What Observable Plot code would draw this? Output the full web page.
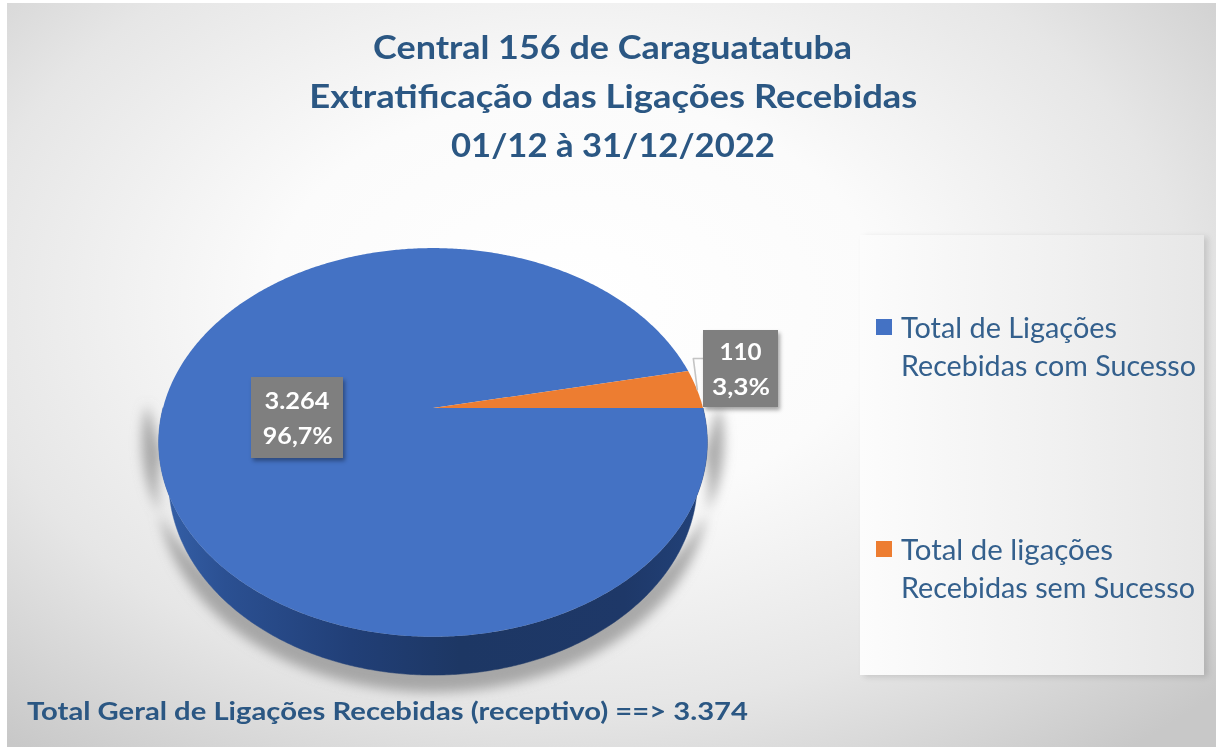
<!DOCTYPE html>
<html><head><meta charset="utf-8">
<script src="https://cdn.jsdelivr.net/npm/d3@7"></script>
<script src="https://cdn.jsdelivr.net/npm/@observablehq/plot@0.6"></script>
<style>
html,body{margin:0;padding:0;background:#fff;}
#page{position:relative;width:1216px;height:747px;overflow:hidden;font-family:Lato,"Open Sans",sans-serif;}
#bg{position:absolute;left:7px;top:3px;right:0;bottom:0;
  background:radial-gradient(ellipse 72% 78% at 47% 40%, #ffffff 0%, #fbfbfb 35%, #e6e6e6 70%, #c8c8c8 100%);}
#legendBox{position:absolute;left:860px;top:235px;width:344px;height:440px;
  background:linear-gradient(90deg,#fcfcfc 0%,#f1f1f1 55%,#e7e7e7 100%);
  box-shadow:4px 2px 6px rgba(0,0,0,0.13);}
.line{position:absolute;white-space:nowrap;}
.line span{display:inline-block;}
.title{left:0;width:1226px;text-align:center;font-weight:700;font-size:32.5px;line-height:40px;height:40px;color:#2B5783;}
.title span{transform-origin:50% 50%;}
.leg{font-size:28px;line-height:36px;height:36px;color:#34608D;}
.leg span, .foot span{transform-origin:0 50%;}
.foot{font-size:24.5px;font-weight:700;line-height:34px;height:34px;color:#2B5783;}
.swatch{position:absolute;width:16px;height:16px;}
.lbl{position:absolute;background:#7f7f7f;color:#fff;font-weight:700;font-size:23.5px;
  box-shadow:2px 3px 4px rgba(0,0,0,0.35);}
.lbl div{position:absolute;left:0;right:0;text-align:center;line-height:30px;height:30px;white-space:nowrap;}
.lbl span{display:inline-block;transform-origin:50% 50%;}
#chart{position:absolute;left:0;top:0;}
</style>
</head><body>
<div id="page">
  <div id="bg"></div>
  <div id="legendBox"></div>
  <div id="chart"></div>
</div>
<script>
// ---------- data ----------
const titleLines = ["Central 156 de Caraguatatuba", "Extratificação das Ligações Recebidas", "01/12 à 31/12/2022"];
const categories = ["Total de Ligações Recebidas com Sucesso", "Total de ligações Recebidas sem Sucesso"];
const legendLines = [["Total de Ligações", "Recebidas com Sucesso"], ["Total de ligações", "Recebidas sem Sucesso"]];
const values = [3264, 110];
const valueLabels = ["3.264", "110"];
const percentLabels = ["96,7%", "3,3%"];
const totalText = "Total Geral de Ligações Recebidas (receptivo) ==> 3.374";
const sliceColors = ["#4472C4", "#ED7D31"];

// ---------- layout ----------
const W = 1216, H = 747;
const page = document.getElementById("page");
const k = 1093.5;           // pixels per projected unit
const cx0 = 433, cy0 = 408; // pixel position of the pie centre
const tilt = 44.2 * Math.PI / 180, dist = 4.05, thick = 0.214;
const cosT = Math.cos(tilt), sinT = Math.sin(tilt);
function proj(X, Y, Z) {
  const depth = Y * cosT + dist - Z * sinT;
  return [X / depth, (Y * sinT + Z * cosT) / depth];
}

const total = d3.sum(values);
let acc = 0;
const slices = values.map((v, i) => { const f0 = acc / total; acc += v; return {cat: categories[i], f0, f1: acc / total, i}; });
const ang = f => -2 * Math.PI * f; // clockwise from 3 o'clock

// top surface fans
const [ccx, ccy] = proj(0, 0, 0);
const topRows = [];
for (const s of slices) {
  const n = Math.max(4, Math.ceil((s.f1 - s.f0) * 720));
  for (let j = 0; j <= n; j++) {
    const a = ang(s.f0 + (s.f1 - s.f0) * j / n);
    const [px, py] = proj(Math.cos(a), Math.sin(a), 0);
    topRows.push({cat: s.cat, x1: ccx, y1: ccy, x2: px, y2: py});
  }
}
// side wall (near half)
const wallRows = d3.range(0, 361).map(j => {
  const t = Math.PI + Math.PI * j / 360;
  const [a, b] = proj(Math.cos(t), Math.sin(t), 0);
  const [c, d] = proj(Math.cos(t), Math.sin(t), -thick);
  return {x1: a, y1: b, x2: c, y2: d};
});
// shadow silhouette (lower part of the pie, slightly enlarged)
const shadowRows = d3.range(0, 361).map(j => {
  const t = Math.PI + Math.PI * j / 360;
  const [a, b] = proj(1.05 * Math.cos(t), 1.05 * Math.sin(t), 0.05);
  const [c, d] = proj(1.04 * Math.cos(t), 1.04 * Math.sin(t), -thick);
  return {x1: a, y1: b, x2: c, y2: d};
});
// label anchors
const toPx = ([sx, sy]) => [cx0 + k * sx, cy0 - k * sy];
const toData = ([px, py]) => [(px - cx0) / k, (cy0 - py) / k];
const mids = slices.map(s => ang((s.f0 + s.f1) / 2));
const blueC = toPx(proj(0.5 * Math.cos(mids[0]), 0.5 * Math.sin(mids[0]), 0));
const orC0 = toPx(proj(1.17 * Math.cos(mids[1]), 1.17 * Math.sin(mids[1]), 0));
const orC = [orC0[0], orC0[1] - 17];
const rim = toPx(proj(Math.cos(mids[1]), Math.sin(mids[1]), 0));
const orBox = {w: 75, h: 77};
const leaderPx = [rim, [rim[0] - 4, orC[1] - 11], [orC[0] - orBox.w / 2, orC[1] - 11]];
const leader = leaderPx.map(p => { const [x, y] = toData(p); return {x, y}; });

const plot = Plot.plot({
  width: W, height: H, margin: 0,
  x: {domain: [-cx0 / k, (W - cx0) / k], range: [0, W], axis: null},
  y: {domain: [-(H - cy0) / k, cy0 / k], range: [H, 0], axis: null},
  color: {domain: categories, range: sliceColors},
  style: {background: "transparent", overflow: "visible"},
  marks: [
    Plot.area(shadowRows, {x1: "x1", y1: "y1", x2: "x2", y2: "y2", fill: "#8a8a8a", fillOpacity: 0.7, dy: 6}),
    Plot.area(wallRows, {x1: "x1", y1: "y1", x2: "x2", y2: "y2", fill: "url(#wallGrad)", stroke: "url(#wallGrad)", strokeWidth: 0.5}),
    Plot.area(topRows, {x1: "x1", y1: "y1", x2: "x2", y2: "y2", z: "cat", fill: "cat"}),
    Plot.line(leader, {x: "x", y: "y", stroke: "#c4c4c4", strokeWidth: 1.6})
  ]
});
document.getElementById("chart").appendChild(plot);
const svg = d3.select(plot);
const defs = svg.insert("defs", ":first-child");
const g = defs.append("linearGradient").attr("id", "wallGrad").attr("gradientUnits", "userSpaceOnUse")
  .attr("x1", 160).attr("y1", 0).attr("x2", 706).attr("y2", 0);
[[0, "#3560a8"], [0.12, "#2b5092"], [0.35, "#213f77"], [0.55, "#1d3764"], [0.85, "#1e3868"], [1, "#22427a"]]
  .forEach(([o, c]) => g.append("stop").attr("offset", o).attr("stop-color", c));
defs.append("filter").attr("id", "softBlur").attr("filterUnits", "userSpaceOnUse")
  .attr("x", 0).attr("y", 0).attr("width", W).attr("height", H)
  .append("feGaussianBlur").attr("stdDeviation", 6);
const firstArea = plot.querySelector('g[aria-label="area"]');
if (firstArea) firstArea.setAttribute("filter", "url(#softBlur)");

// ---------- text ----------
function fit(span, target) {
  const w = span.getBoundingClientRect().width;
  if (w > 0) span.style.transform = `scaleX(${target / w})`;
}
function addLine(cls, text, left, centerY, lh, target, parent = page) {
  const d = document.createElement("div");
  d.className = "line " + cls;
  if (left !== null) d.style.left = left + "px";
  d.style.top = (centerY - lh / 2) + "px";
  const s = document.createElement("span");
  s.textContent = text;
  d.appendChild(s);
  parent.appendChild(d);
  fit(s, target);
  return d;
}
const titleCenters = [47, 96, 145], titleWidths = [479, 608, 324];
titleLines.forEach((t, i) => addLine("title", t, null, titleCenters[i], 40, titleWidths[i]));

const legendTops = [327, 549], legendWidths = [[216, 295], [212, 294]];
legendLines.forEach((ls, i) => {
  const sw = document.createElement("div");
  sw.className = "swatch";
  sw.style.left = "876px"; sw.style.top = (legendTops[i] - 8) + "px";
  sw.style.background = sliceColors[i];
  page.appendChild(sw);
  ls.forEach((t, j) => addLine("leg", t, 901, legendTops[i] + j * 38, 36, legendWidths[i][j]));
});
addLine("foot", totalText, 27, 711, 34, 721);

// data labels
const boxes = [{c: blueC, w: 92, h: 81, widths: [65, 70]}, {c: orC, w: orBox.w, h: orBox.h, widths: [42, 58]}];
boxes.forEach((b, i) => {
  const d = document.createElement("div");
  d.className = "lbl";
  d.style.left = (b.c[0] - b.w / 2) + "px";
  d.style.top = (b.c[1] - b.h / 2) + "px";
  d.style.width = b.w + "px"; d.style.height = b.h + "px";
  page.appendChild(d);
  [valueLabels[i], percentLabels[i]].forEach((t, j) => {
    const r = document.createElement("div");
    r.style.top = (b.h / 2 - 33 + j * 35) + "px";
    const s = document.createElement("span");
    s.textContent = t;
    r.appendChild(s); d.appendChild(r);
    fit(s, b.widths[j]);
  });
});
</script>
</body></html>
